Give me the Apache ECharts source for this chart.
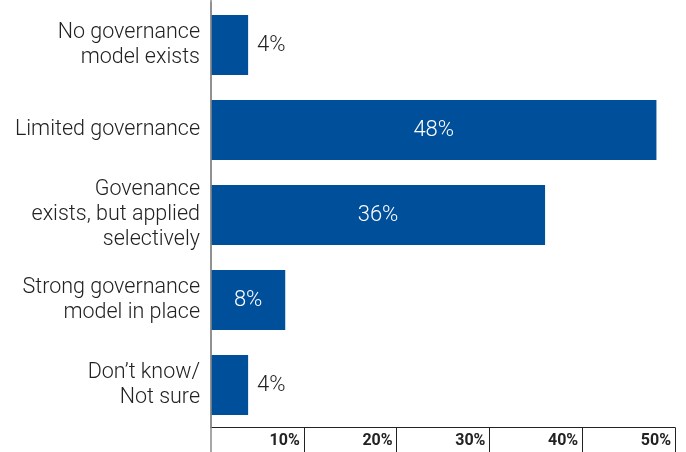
<!DOCTYPE html>
<html>
<head>
<meta charset="utf-8">
<script src="https://cdn.jsdelivr.net/npm/echarts@6/dist/echarts.min.js"></script>
<style>
  html, body { margin: 0; padding: 0; background: #fff; }
  #chart { width: 686px; height: 452px; }
</style>
</head>
<body>
<div id="chart"></div>
<script>
// Survey responses: maturity of governance model
const categories = [
  'No governance\nmodel exists',
  'Limited governance',
  'Govenance\nexists, but applied\nselectively',
  'Strong governance\nmodel in place',
  'Don\u2019t know/\nNot sure'
];
const shares = [4, 48, 36, 8, 4];
const tickValues = [10, 20, 30, 40, 50];

const BAR_COLOR = '#004f9a';
const FONT = 'Roboto, "Liberation Sans", sans-serif';

// Short bars carry their value outside, longer ones inside in white
const barData = shares.map(v => ({
  value: v,
  label: v < 6
    ? { position: 'right', distance: 9, color: '#222' }
    : { position: 'inside', color: '#fff' }
}));

const chart = echarts.init(document.getElementById('chart'), null, { renderer: 'canvas' });

chart.setOption({
  animation: false,
  backgroundColor: '#fff',
  grid: { left: 211, right: 11, top: 2.5, bottom: 24.5, containLabel: false },
  xAxis: {
    type: 'value',
    min: 0,
    max: 50,
    interval: 10,
    splitLine: { show: false },
    axisLine: { show: true, lineStyle: { color: '#222', width: 1 } },
    axisTick: {
      show: true, length: 25, inside: false,
      customValues: tickValues,
      lineStyle: { color: '#222', width: 1 }
    },
    axisLabel: {
      customValues: tickValues,
      formatter: v => v + '%',
      align: 'right',
      padding: [0, 4, 0, 0],
      margin: 5,
      fontFamily: FONT,
      fontWeight: 'bold',
      fontSize: 16,
      color: '#222'
    }
  },
  yAxis: {
    type: 'category',
    data: categories,
    inverse: true,
    axisLine: { show: true, lineStyle: { color: '#8a8a8a', width: 1.5 } },
    axisTick: { show: false },
    axisLabel: {
      margin: 11,
      fontFamily: FONT,
      fontWeight: 300,
      fontSize: 21.5,
      lineHeight: 25,
      color: '#222',
      align: 'right'
    }
  },
  series: [{
    type: 'bar',
    data: barData,
    barCategoryGap: '29.4%',
    itemStyle: { color: BAR_COLOR },
    label: {
      show: true,
      formatter: p => p.value + '%',
      fontFamily: FONT,
      fontWeight: 300,
      fontSize: 22
    }
  }]
});

// Extend the grey vertical axis rule to the full height of the canvas
const zeroX = chart.convertToPixel({ gridIndex: 0 }, [0, 0])[0];
chart.setOption({
  graphic: [{
    type: 'line',
    shape: { x1: zeroX, y1: 0, x2: zeroX, y2: 452 },
    style: { stroke: '#8a8a8a', lineWidth: 1.5 },
    z: 10
  }]
});
</script>
</body>
</html>
